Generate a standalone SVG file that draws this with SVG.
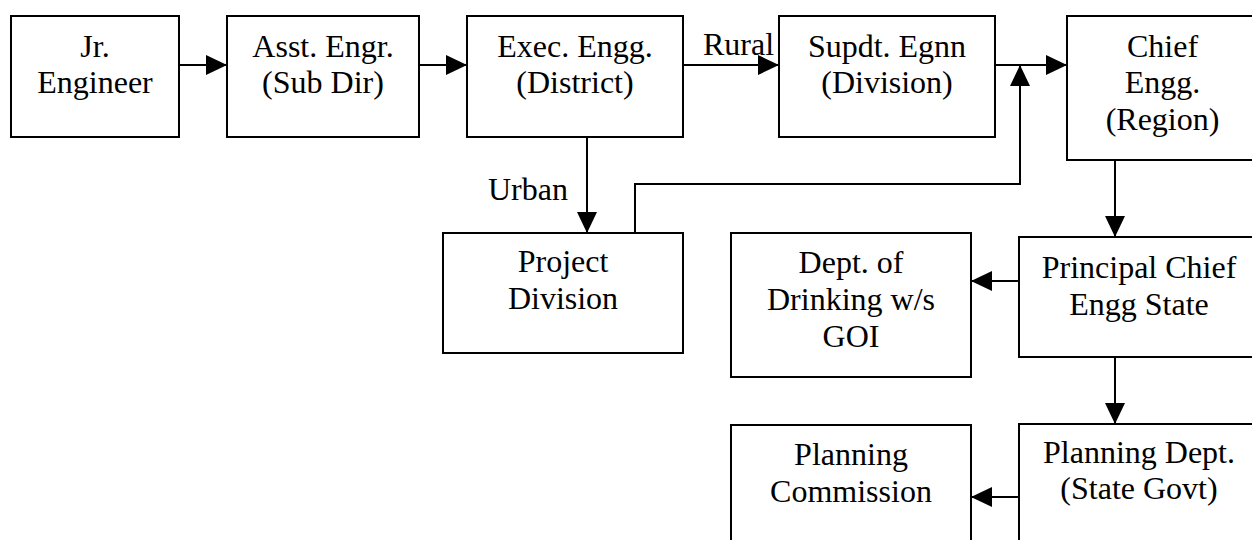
<svg xmlns="http://www.w3.org/2000/svg" width="1252" height="540" viewBox="0 0 1252 540">
  <style>
    .box { fill: #ffffff; stroke: #000000; stroke-width: 2; }
    .lbl { font-family: "Liberation Serif", "DejaVu Serif", serif; font-size: 32px; fill: #000000; text-anchor: middle; }
    .tag { font-family: "Liberation Serif", "DejaVu Serif", serif; font-size: 32px; fill: #000000; }
    .wire { fill: none; stroke: #000000; stroke-width: 2; marker-end: url(#head); }
  </style>
  <defs>
    <marker id="head" markerUnits="userSpaceOnUse" markerWidth="21" markerHeight="20" refX="21" refY="10" orient="auto">
      <path d="M0,0 L21,10 L0,20 Z" fill="#000000"/>
    </marker>
  </defs>
  <rect width="1252" height="540" fill="#ffffff"/>

  <g id="connectors">
    <line class="wire" x1="179" y1="65" x2="227" y2="65"/>
    <line class="wire" x1="419" y1="65" x2="467" y2="65"/>
    <line class="wire" x1="683" y1="65" x2="779" y2="65"/>
    <text class="tag" x="703" y="55">Rural</text>
    <line class="wire" x1="995" y1="65" x2="1067" y2="65"/>
    <line class="wire" x1="587" y1="137" x2="587" y2="233"/>
    <text class="tag" x="488" y="200">Urban</text>
    <path class="wire" d="M635,233 V184 H1020 V65"/>
    <line class="wire" x1="1115" y1="160" x2="1115" y2="237"/>
    <line class="wire" x1="1019" y1="281" x2="971" y2="281"/>
    <line class="wire" x1="1115" y1="357" x2="1115" y2="424"/>
    <line class="wire" x1="1019" y1="497" x2="971" y2="497"/>
  </g>

  <g id="jr-engineer">
    <rect class="box" x="11" y="16" width="168" height="121"/>
    <text class="lbl" x="95" y="57">Jr.</text>
    <text class="lbl" x="95" y="93">Engineer</text>
  </g>
  <g id="asst-engr">
    <rect class="box" x="227" y="16" width="192" height="121"/>
    <text class="lbl" x="323" y="57">Asst. Engr.</text>
    <text class="lbl" x="323" y="93">(Sub Dir)</text>
  </g>
  <g id="exec-engg">
    <rect class="box" x="467" y="16" width="216" height="121"/>
    <text class="lbl" x="575" y="57">Exec. Engg.</text>
    <text class="lbl" x="575" y="93">(District)</text>
  </g>
  <g id="supdt-egnn">
    <rect class="box" x="779" y="16" width="216" height="121"/>
    <text class="lbl" x="887" y="57">Supdt. Egnn</text>
    <text class="lbl" x="887" y="93">(Division)</text>
  </g>
  <g id="chief-engg">
    <rect class="box" x="1067" y="16" width="192" height="144"/>
    <text class="lbl" x="1162.5" y="57">Chief</text>
    <text class="lbl" x="1162.5" y="93">Engg.</text>
    <text class="lbl" x="1162.5" y="130">(Region)</text>
  </g>
  <g id="project-division">
    <rect class="box" x="443" y="233" width="240" height="120"/>
    <text class="lbl" x="563" y="272">Project</text>
    <text class="lbl" x="563" y="309">Division</text>
  </g>
  <g id="dept-drinking">
    <rect class="box" x="731" y="233" width="240" height="144"/>
    <text class="lbl" x="851" y="273">Dept. of</text>
    <text class="lbl" x="851" y="310">Drinking w/s</text>
    <text class="lbl" x="851" y="347">GOI</text>
  </g>
  <g id="principal-chief">
    <rect class="box" x="1019" y="237" width="240" height="120"/>
    <text class="lbl" x="1139" y="278">Principal Chief</text>
    <text class="lbl" x="1139" y="315">Engg State</text>
  </g>
  <g id="planning-commission">
    <rect class="box" x="731" y="425" width="240" height="130"/>
    <text class="lbl" x="851" y="465">Planning</text>
    <text class="lbl" x="851" y="502">Commission</text>
  </g>
  <g id="planning-dept">
    <rect class="box" x="1019" y="424" width="240" height="130"/>
    <text class="lbl" x="1139" y="463">Planning Dept.</text>
    <text class="lbl" x="1139" y="499">(State Govt)</text>
  </g>
</svg>
